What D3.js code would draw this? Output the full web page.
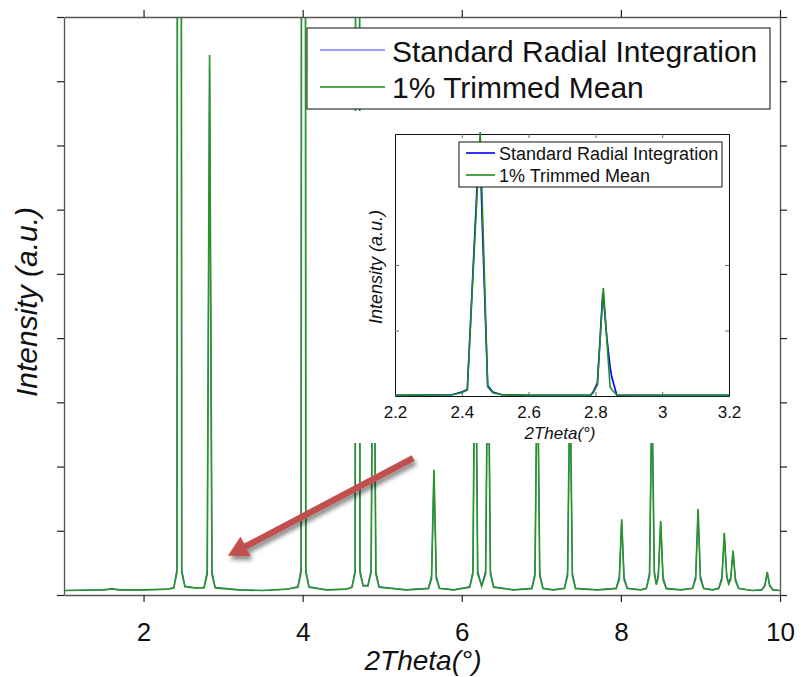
<!DOCTYPE html>
<html>
<head>
<meta charset="utf-8">
<script src="https://cdn.jsdelivr.net/npm/d3@7"></script>
<style>
  body { margin: 0; background: #fff; }
  svg { display: block; font-family: "Liberation Sans", Arial, sans-serif; }
</style>
</head>
<body>
<svg id="chart" width="801" height="677"></svg>
<script>
// ---- data ----
// main pattern, 2Theta (deg) and intensity (a.u.) for the two integrations
const mainTheta = [1.0, 1.5, 1.6, 1.7, 2.0, 2.3,
  2.38, 2.42, 2.45, 2.48, 2.52, 2.65,
  2.76, 2.80, 2.83, 2.86, 2.90, 3.2, 3.5, 3.8,
  3.94, 3.98, 4.01, 4.04, 4.08, 4.3, 4.55,
  4.62, 4.66, 4.69, 4.72, 4.76, 4.82, 4.86, 4.89, 4.92, 4.96, 5.3,
  5.58, 5.62, 5.65, 5.68, 5.72, 5.9,
  6.10, 6.14, 6.17, 6.20, 6.25, 6.30, 6.33, 6.36, 6.40, 6.65,
  6.88, 6.92, 6.95, 6.98, 7.02, 7.15,
  7.29, 7.33, 7.36, 7.39, 7.43, 7.7,
  7.94, 7.98, 8.01, 8.04, 8.08, 8.25,
  8.32, 8.36, 8.39, 8.42, 8.445, 8.47, 8.50, 8.53, 8.57, 8.75,
  8.90, 8.94, 8.97, 9.00, 9.04, 9.15,
  9.23, 9.27, 9.30, 9.33, 9.355, 9.38, 9.41, 9.44, 9.48, 9.65,
  9.77, 9.81, 9.84, 9.87, 9.91, 10.0];

const mainTrimmed = [0.07, 0.08, 0.10, 0.08, 0.08, 0.09,
  0.11, 0.35, 60, 0.35, 0.13, 0.11,
  0.11, 0.32, 8.41, 0.32, 0.11, 0.08, 0.07, 0.09,
  0.12, 0.35, 60, 0.35, 0.12, 0.08, 0.09,
  0.12, 0.35, 60, 0.35, 0.14, 0.14, 0.35, 6.0, 0.33, 0.12, 0.08,
  0.10, 0.25, 1.95, 0.25, 0.10, 0.08,
  0.12, 0.33, 5.0, 0.33, 0.14, 0.33, 4.5, 0.33, 0.12, 0.08,
  0.10, 0.30, 4.0, 0.30, 0.10, 0.08,
  0.10, 0.30, 3.5, 0.30, 0.10, 0.08,
  0.10, 0.24, 1.18, 0.24, 0.10, 0.08,
  0.10, 0.30, 3.2, 0.34, 0.16, 0.28, 1.15, 0.24, 0.10, 0.08,
  0.10, 0.25, 1.34, 0.25, 0.10, 0.08,
  0.10, 0.24, 0.97, 0.28, 0.17, 0.24, 0.69, 0.22, 0.10, 0.07,
  0.08, 0.14, 0.36, 0.14, 0.08, 0.07];

const mainStandard = [0.07, 0.08, 0.09, 0.08, 0.08, 0.09,
  0.12, 0.42, 58, 0.40, 0.14, 0.11,
  0.12, 0.38, 8.2, 0.38, 0.12, 0.08, 0.07, 0.09,
  0.13, 0.42, 58, 0.40, 0.13, 0.08, 0.09,
  0.13, 0.40, 58, 0.40, 0.15, 0.15, 0.40, 5.8, 0.38, 0.13, 0.08,
  0.11, 0.30, 1.90, 0.30, 0.11, 0.08,
  0.13, 0.38, 4.9, 0.38, 0.15, 0.38, 4.4, 0.38, 0.13, 0.08,
  0.11, 0.35, 3.9, 0.35, 0.11, 0.08,
  0.11, 0.35, 3.4, 0.35, 0.11, 0.08,
  0.11, 0.29, 1.14, 0.29, 0.11, 0.08,
  0.11, 0.35, 3.1, 0.39, 0.17, 0.33, 1.12, 0.29, 0.11, 0.08,
  0.11, 0.30, 1.30, 0.30, 0.11, 0.08,
  0.11, 0.29, 0.94, 0.32, 0.18, 0.29, 0.67, 0.26, 0.11, 0.07,
  0.08, 0.16, 0.35, 0.16, 0.08, 0.07];

// inset: zoom on the first two peaks
const insetTheta = [2.20, 2.30, 2.37, 2.40, 2.4165, 2.447, 2.455, 2.462, 2.4775, 2.493, 2.52, 2.60,
  2.78, 2.786, 2.794, 2.806, 2.822, 2.8237, 2.834, 2.844, 2.849, 2.864, 2.90, 3.20];
const insetTrimmed = [0.01, 0.015, 0.02, 0.05, 0.09, 3.21, 4.03, 2.82, 0.14, 0.05, 0.02, 0.01,
  0.01, 0.015, 0.05, 0.17, 1.51, 1.65, 0.88, 0.14, 0.10, 0.015, 0.01, 0.01];
const insetStandard = [0.01, 0.015, 0.02, 0.06, 0.10, 3.35, 3.70, 2.50, 0.16, 0.06, 0.02, 0.01,
  0.01, 0.015, 0.07, 0.20, 1.57, 1.52, 0.90, 0.45, 0.29, 0.015, 0.01, 0.01];

const seriesNames = ["Standard Radial Integration", "1% Trimmed Mean"];
const mainTicksX = [2, 4, 6, 8, 10];
const mainTicksY = [0, 1, 2, 3, 4, 5, 6, 7, 8, 9];
const insetTicksX = [2.2, 2.4, 2.6, 2.8, 3.0, 3.2];
const insetTicksY = [1, 2];

// arrow annotation, in data units of the main plot: [from, to]
const arrowPoints = [[5.39, 2.13], [3.06, 0.61]];

// ---- drawing ----
const svg = d3.select("#chart");
const blue = "#3050ff";
const green = "#2a942a";

const x = d3.scaleLinear().domain([1, 10]).range([64, 780]);
const y = d3.scaleLinear().domain([0, 9]).range([595, 17]);

const defs = svg.append("defs");
defs.append("clipPath").attr("id", "main-clip")
  .append("rect").attr("x", 64).attr("y", 17).attr("width", 716).attr("height", 578);
const shadow = defs.append("filter").attr("id", "shadow")
  .attr("x", "-20%").attr("y", "-20%").attr("width", "140%").attr("height", "140%");
shadow.append("feDropShadow").attr("dx", 2).attr("dy", 4).attr("stdDeviation", 2.2)
  .attr("flood-color", "#000").attr("flood-opacity", 0.45);

const line = d3.line().x(d => x(d[0])).y(d => y(d[1]));

const plot = svg.append("g").attr("clip-path", "url(#main-clip)");
plot.append("path")
  .attr("d", line(d3.zip(mainTheta, mainStandard)))
  .attr("fill", "none").attr("stroke", blue).attr("stroke-width", 1.1);
plot.append("path")
  .attr("d", line(d3.zip(mainTheta, mainTrimmed)))
  .attr("fill", "none").attr("stroke", green).attr("stroke-width", 1.7);

function styleAxis(g) {
  g.select(".domain").attr("stroke", "#555").attr("stroke-width", 1.3);
  g.selectAll(".tick line").attr("stroke", "#222").attr("stroke-width", 1.2);
}

svg.append("g").attr("transform", "translate(0,595)")
  .call(d3.axisBottom(x).tickValues(mainTicksX).tickSize(7).tickSizeOuter(0).tickPadding(21))
  .call(styleAxis)
  .call(g => g.selectAll("text").attr("font-size", 26).attr("fill", "#111")
    .attr("font-family", "Liberation Sans, Arial, sans-serif"));
svg.append("g").attr("transform", "translate(0,17)")
  .call(d3.axisTop(x).tickValues(mainTicksX).tickSize(7).tickSizeOuter(0).tickFormat(""))
  .call(styleAxis);
svg.append("g").attr("transform", "translate(64,0)")
  .call(d3.axisLeft(y).tickValues(mainTicksY).tickSize(7).tickSizeOuter(0).tickFormat(""))
  .call(styleAxis);
svg.append("g").attr("transform", "translate(780,0)")
  .call(d3.axisRight(y).tickValues(mainTicksY).tickSize(7).tickSizeOuter(0).tickFormat(""))
  .call(styleAxis);

svg.append("text")
  .attr("transform", "translate(26,302) rotate(-90)")
  .attr("text-anchor", "middle").attr("dy", "0.35em")
  .attr("font-size", 30).attr("font-style", "italic").attr("fill", "#111")
  .text("Intensity (a.u.)");
svg.append("text")
  .attr("x", 423).attr("y", 670)
  .attr("text-anchor", "middle")
  .attr("font-size", 28).attr("font-style", "italic").attr("fill", "#111")
  .text("2Theta(°)");

// main legend
const legend = svg.append("g");
legend.append("rect").attr("x", 307).attr("y", 28).attr("width", 463).attr("height", 81)
  .attr("fill", "#fff").attr("stroke", "#333").attr("stroke-width", 1.2);
legend.selectAll("line.key").data(seriesNames).join("line")
  .attr("class", "key")
  .attr("x1", 320).attr("x2", 385)
  .attr("y1", (d, i) => 50 + i * 37).attr("y2", (d, i) => 50 + i * 37)
  .attr("stroke", (d, i) => i === 0 ? "#7b7bff" : "#1a8a1a").attr("stroke-width", 1.5);
legend.selectAll("text").data(seriesNames).join("text")
  .attr("x", 392).attr("y", (d, i) => 62 + i * 36)
  .attr("font-size", 30).attr("fill", "#111")
  .text(d => d);

// ---- inset ----
const xi = d3.scaleLinear().domain([2.2, 3.2]).range([395, 729]);
const yi = d3.scaleLinear().domain([0, 4]).range([396, 134]);
const lineInset = d3.line().x(d => xi(d[0])).y(d => yi(d[1]));

const inset = svg.append("g");
inset.append("rect").attr("x", 352).attr("y", 111).attr("width", 418).attr("height", 332)
  .attr("fill", "#fff");

function styleInset(g) {
  g.select(".domain").attr("stroke", "#111").attr("stroke-width", 1);
  g.selectAll(".tick line").attr("stroke", "#666").attr("stroke-width", 1);
}

inset.append("g").attr("transform", "translate(0,396)")
  .call(d3.axisBottom(xi).tickValues(insetTicksX).tickSize(-4).tickSizeOuter(0).tickPadding(10)
    .tickFormat(d => String(+d.toFixed(1))))
  .call(styleInset)
  .call(g => g.selectAll("text").attr("font-size", 17).attr("fill", "#111")
    .attr("font-family", "Liberation Sans, Arial, sans-serif"));
inset.append("g").attr("transform", "translate(0,134)")
  .call(d3.axisTop(xi).tickValues(insetTicksX).tickSize(-4).tickSizeOuter(0).tickFormat(""))
  .call(styleInset);
inset.append("g").attr("transform", "translate(395,0)")
  .call(d3.axisLeft(yi).tickValues(insetTicksY).tickSize(-4).tickSizeOuter(0).tickFormat(""))
  .call(styleInset);
inset.append("g").attr("transform", "translate(729,0)")
  .call(d3.axisRight(yi).tickValues(insetTicksY).tickSize(-4).tickSizeOuter(0).tickFormat(""))
  .call(styleInset);

inset.append("path")
  .attr("d", lineInset(d3.zip(insetTheta, insetStandard)))
  .attr("fill", "none").attr("stroke", "#0000ff").attr("stroke-width", 1.6);
inset.append("path")
  .attr("d", lineInset(d3.zip(insetTheta, insetTrimmed)))
  .attr("fill", "none").attr("stroke", "#1f8c1f").attr("stroke-width", 1.6);

inset.append("text")
  .attr("transform", "translate(376,267) rotate(-90)")
  .attr("text-anchor", "middle").attr("dy", "0.35em")
  .attr("font-size", 18).attr("font-style", "italic").attr("fill", "#111")
  .text("Intensity (a.u.)");
inset.append("text")
  .attr("x", 560).attr("y", 439)
  .attr("text-anchor", "middle")
  .attr("font-size", 17).attr("font-style", "italic").attr("fill", "#111")
  .text("2Theta(°)");

const legendInset = inset.append("g");
legendInset.append("rect").attr("x", 459).attr("y", 142).attr("width", 263).attr("height", 45)
  .attr("fill", "#fff").attr("stroke", "#111").attr("stroke-width", 1);
legendInset.selectAll("line").data(seriesNames).join("line")
  .attr("x1", 466).attr("x2", 495)
  .attr("y1", (d, i) => 153 + i * 22).attr("y2", (d, i) => 153 + i * 22)
  .attr("stroke", (d, i) => i === 0 ? "#0000ff" : "#1f8c1f").attr("stroke-width", 1.6);
legendInset.selectAll("text").data(seriesNames).join("text")
  .attr("x", 499).attr("y", (d, i) => 160 + i * 22)
  .attr("font-size", 18).attr("fill", "#111")
  .text(d => d);

// ---- arrow ----
const [p0, p1] = arrowPoints.map(p => [x(p[0]), y(p[1])]);
const dx = p1[0] - p0[0], dy = p1[1] - p0[1];
const len = Math.hypot(dx, dy);
const ux = dx / len, uy = dy / len;
const headLen = 20, headHalf = 11;
const base = [p1[0] - ux * headLen, p1[1] - uy * headLen];
const arrow = svg.append("g").attr("filter", "url(#shadow)");
arrow.append("line")
  .attr("x1", p0[0]).attr("y1", p0[1])
  .attr("x2", base[0] + ux * 2).attr("y2", base[1] + uy * 2)
  .attr("stroke", "#c0504d").attr("stroke-width", 6.5);
arrow.append("path")
  .attr("d", d3.line()([
    p1,
    [base[0] - uy * headHalf, base[1] + ux * headHalf],
    [base[0] + uy * headHalf, base[1] - ux * headHalf]
  ]) + "Z")
  .attr("fill", "#c0504d");
</script>
</body>
</html>
